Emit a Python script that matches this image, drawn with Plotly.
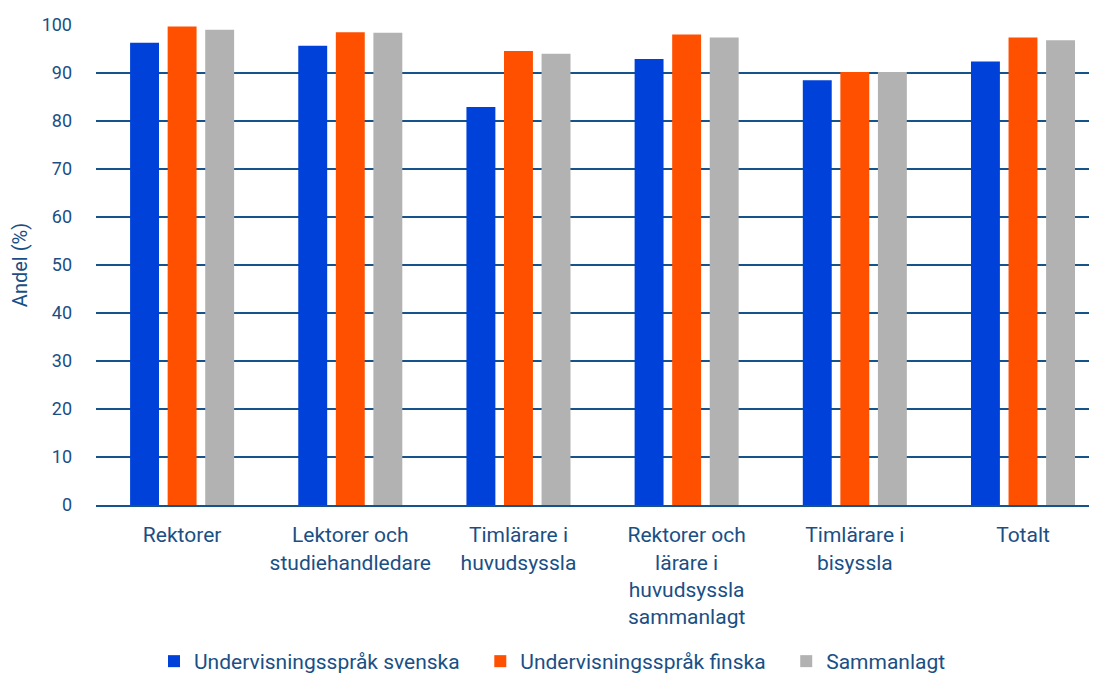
import plotly.graph_objects as go

categories = [
    "Rektorer",
    "Lektorer och<br>studiehandledare",
    "Timlärare i<br>huvudsyssla",
    "Rektorer och<br>lärare i<br>huvudsyssla<br>sammanlagt",
    "Timlärare i<br>bisyssla",
    "Totalt",
]
svenska = [96.3, 95.7, 82.9, 92.9, 88.5, 92.4]
finska = [99.7, 98.5, 94.6, 98.0, 90.2, 97.4]
sammanlagt = [99.0, 98.4, 94.0, 97.4, 90.2, 96.8]
y_ticks = [0, 10, 20, 30, 40, 50, 60, 70, 80, 90, 100]

TEXT = "#1a4f85"
GRID = "#15538a"
FONT = "Roboto"
PAD = "\u00a0" * 3  # a bit more room between legend entries

x_pos = list(range(len(categories)))

fig = go.Figure()
for name, vals, color in [
    ("Undervisningsspråk svenska" + PAD, svenska, "#0041d9"),
    ("Undervisningsspråk finska" + PAD, finska, "#ff5000"),
    ("Sammanlagt", sammanlagt, "#b2b2b2"),
]:
    fig.add_trace(go.Bar(x=x_pos, y=vals, name=name, marker_color=color,
                         marker_line_width=0))

# page body has an 8px margin, so the figure is a bit smaller than the window
fig.update_layout(
    width=1089,
    height=674,
    barmode="group",
    bargap=0.33,
    bargroupgap=0.23,
    plot_bgcolor="white",
    paper_bgcolor="white",
    font=dict(family=FONT, color=TEXT, size=18),
    margin=dict(l=88, r=0, t=17, b=177),
    xaxis=dict(
        tickmode="array",
        tickvals=x_pos,
        ticktext=categories,
        range=[-0.512, 5.44],
        showline=True,
        linecolor=GRID,
        linewidth=2,
        tickfont=dict(size=21),
        ticks="",
        ticklabelstandoff=10,
        automargin=False,
    ),
    yaxis=dict(
        range=[0, 100],
        tickvals=y_ticks,
        showgrid=True,
        gridcolor=GRID,
        gridwidth=2,
        zeroline=False,
        ticklabelstandoff=23,
        tickfont=dict(size=18),
        title=dict(text="Andel (%)", font=dict(size=20), standoff=14),
        automargin=False,
    ),
    legend=dict(
        orientation="h",
        x=0.5,
        xanchor="center",
        xref="container",
        y=-0.012,
        yanchor="bottom",
        yref="container",
        font=dict(size=21),
        traceorder="normal",
        itemwidth=30,
    ),
)

fig.write_html("out.html")
